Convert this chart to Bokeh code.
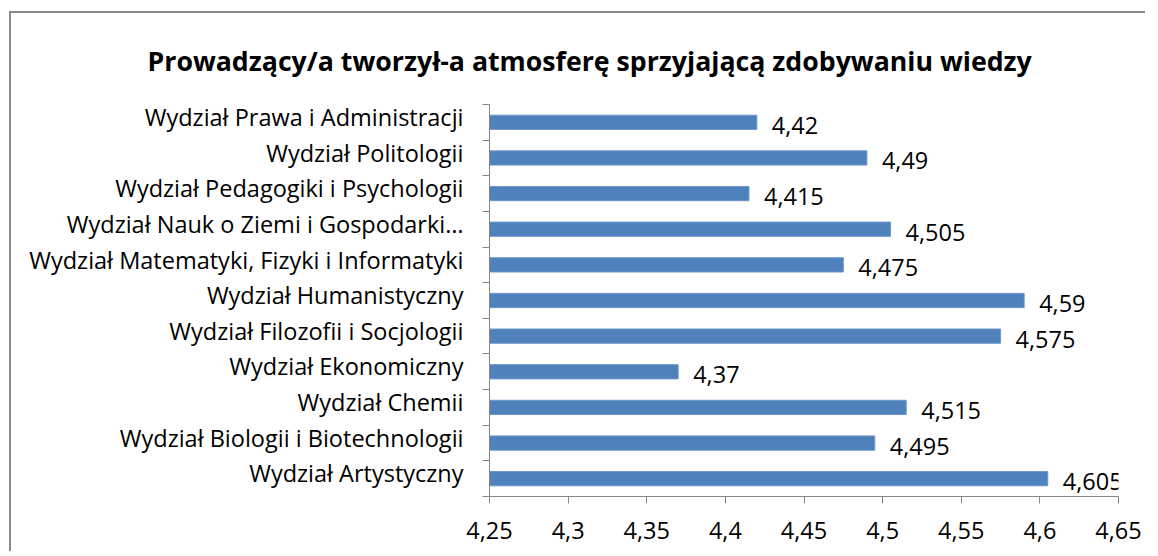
from bokeh.plotting import figure
from bokeh.models import FixedTicker, ColumnDataSource, LabelSet, Range1d, Title
from bokeh.core.properties import value
from bokeh.embed import file_html
from bokeh.resources import INLINE

title_text = "Prowadzący/a tworzył-a atmosferę sprzyjającą zdobywaniu wiedzy"
categories = [
    "Wydział Prawa i Administracji",
    "Wydział Politologii",
    "Wydział Pedagogiki i Psychologii",
    "Wydział Nauk o Ziemi i Gospodarki…",
    "Wydział Matematyki, Fizyki i Informatyki",
    "Wydział Humanistyczny",
    "Wydział Filozofii i Socjologii",
    "Wydział Ekonomiczny",
    "Wydział Chemii",
    "Wydział Biologii i Biotechnologii",
    "Wydział Artystyczny",
]
values = [4.42, 4.49, 4.415, 4.505, 4.475, 4.59, 4.575, 4.37, 4.515, 4.495, 4.605]
value_labels = ["4,42", "4,49", "4,415", "4,505", "4,475", "4,59", "4,575", "4,37", "4,515", "4,495", "4,605"]
x_ticks = [4.25, 4.3, 4.35, 4.4, 4.45, 4.5, 4.55, 4.6, 4.65]
x_tick_labels = ["4,25", "4,3", "4,35", "4,4", "4,45", "4,5", "4,55", "4,6", "4,65"]

FONT = "Open Sans"
FS = "23.5px"
AXIS_COLOR = "#868686"
BAR_COLOR = "#4F81BD"

n = len(categories)
ypos = [n - i - 0.5 for i in range(n)]
LABEL_SHIFT = 0.15  # category label sits slightly above band centre
label_pos = [y + LABEL_SHIFT for y in ypos]

src = ColumnDataSource(dict(y=ypos, v=values, lab=value_labels, cat=categories))

W, H = 1136, 540
FL, FR, FT, FB = 478, 1107, 91, 483   # frame edges relative to canvas origin
p = figure(width=W, height=H, output_backend="svg", toolbar_location=None,
           x_range=Range1d(x_ticks[0], x_ticks[-1]), y_range=Range1d(0, n),
           min_border_left=FL, min_border_right=W - FR, min_border_top=FT,
           min_border_bottom=H - FB)
p.margin = (13, 0, 0, 11)
p.styles = {"box-shadow": "-2px -2px 0px 0px #898989"}
p.outline_line_color = None
p.xgrid.visible = False
p.ygrid.visible = False
p.background_fill_color = "white"
p.border_fill_color = "white"

p.hbar(y="y", right="v", left=x_ticks[0], height=0.4, source=src,
       fill_color=BAR_COLOR, line_color="#6d97c9", line_width=1)

labels = LabelSet(x="v", y="y", text="lab", source=src, x_offset=15, y_offset=-3,
                  text_baseline="middle", text_align="left",
                  text_font=value(FONT), text_font_size=value(FS), text_color="black")
p.add_layout(labels)

t = Title(text=title_text, text_font=FONT, text_font_size="26.7px", text_font_style="bold",
          align="left", offset=147 - 11 - FL, standoff=52, text_color="black")
p.add_layout(t, "above")

xa = p.xaxis[0]
xa.ticker = FixedTicker(ticks=x_ticks, minor_ticks=[])
xa.major_label_overrides = {tv: tl for tv, tl in zip(x_ticks, x_tick_labels)}
xa.axis_line_color = AXIS_COLOR
xa.major_tick_line_color = AXIS_COLOR
xa.major_tick_in = 0
xa.major_tick_out = 7
xa.minor_tick_line_color = None
xa.major_label_text_font = FONT
xa.major_label_text_font_size = FS
xa.major_label_text_color = "black"
xa.major_label_standoff = 18

ya = p.yaxis[0]
ya.ticker = FixedTicker(ticks=label_pos, minor_ticks=list(range(n + 1)))
ya.major_label_overrides = {y: c for y, c in zip(label_pos, categories)}
ya.axis_line_color = AXIS_COLOR
ya.major_tick_line_color = None
ya.major_tick_in = 0
ya.major_tick_out = 0
ya.minor_tick_line_color = AXIS_COLOR
ya.minor_tick_in = 0
ya.minor_tick_out = 7
ya.major_label_text_font = FONT
ya.major_label_text_font_size = FS
ya.major_label_text_color = "black"
ya.major_label_standoff = 19

open("out.html", "w").write(file_html(p, INLINE))
